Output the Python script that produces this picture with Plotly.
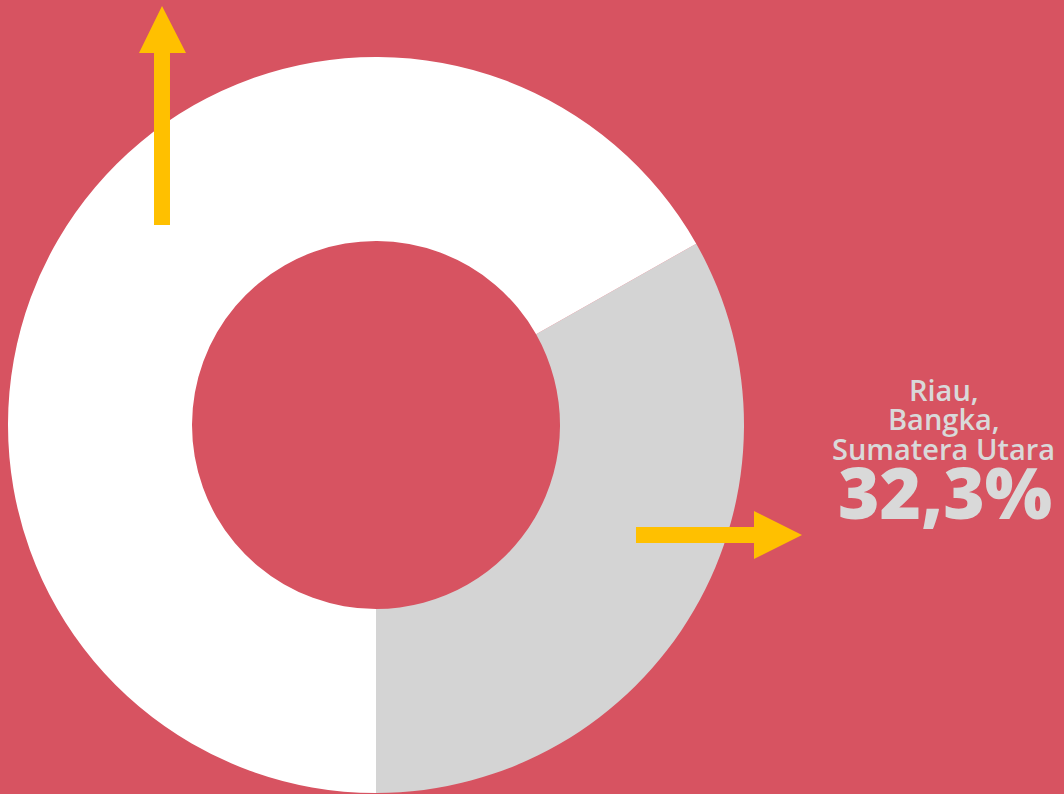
import plotly.graph_objects as go

# Data
slice_labels = ["Riau, Bangka, Sumatera Utara", "Lainnya"]
slice_values = [33.2, 66.8]
slice_colors = ["#D4D4D4", "#FFFFFF"]
caption_lines = ["Riau,", "Bangka,", "Sumatera Utara"]
caption_value = "32,3%"

W, H = 1064, 794
BG = "#D75361"
YELLOW = "#FFC000"
TEXT = "#D9D9D9"

def px(x):
    return x / W

def py(y):
    return 1 - y / H

# gray slice ends exactly at 6 o'clock
rotation = 180 - 360 * slice_values[0] / sum(slice_values)

fig = go.Figure(go.Pie(
    labels=slice_labels,
    values=slice_values,
    hole=0.5,
    sort=False,
    direction="clockwise",
    rotation=rotation,
    marker=dict(colors=slice_colors, line=dict(width=0)),
    textinfo="none",
    hoverinfo="none",
    showlegend=False,
    domain=dict(x=[px(8), px(744)], y=[py(793), py(57)]),
))

def path(points):
    s = "M " + " L ".join(f"{px(x):.5f},{py(y):.5f}" for x, y in points) + " Z"
    return s

up_arrow = [(154, 225), (154, 53), (139, 53), (162, 6), (186, 53), (170, 53), (170, 225)]
right_arrow = [(636, 527), (754, 527), (754, 511), (802, 535), (754, 559), (754, 543), (636, 543)]

shapes = []
for pts in (up_arrow, right_arrow):
    shapes.append(dict(type="path", xref="paper", yref="paper", path=path(pts),
                       fillcolor=YELLOW, line=dict(width=0), layer="above"))

annotations = []
line_centers = [389, 418, 448]
for txt, yc in zip(caption_lines, line_centers):
    annotations.append(dict(text=txt, x=px(943.5), y=py(yc), xref="paper", yref="paper",
                            xanchor="center", yanchor="middle", showarrow=False,
                            font=dict(family="Open Sans", size=29, color=TEXT, weight=600)))
annotations.append(dict(text=caption_value, x=px(945), y=py(491), xref="paper", yref="paper",
                        xanchor="center", yanchor="middle", showarrow=False,
                        font=dict(family="Open Sans", size=71, color=TEXT, weight=800)))

fig.update_layout(
    width=W, height=H,
    margin=dict(l=0, r=0, t=0, b=0),
    paper_bgcolor=BG, plot_bgcolor=BG,
    shapes=shapes,
    annotations=annotations,
)

fig.write_html("out.html")
